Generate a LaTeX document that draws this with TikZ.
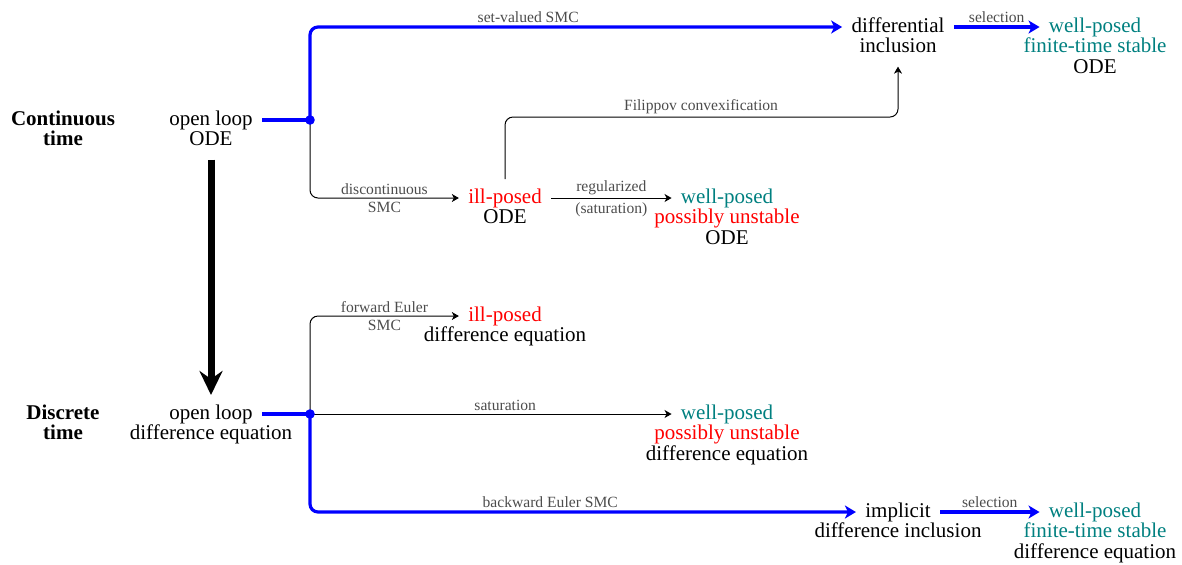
\documentclass[tikz,border=0pt]{standalone}
\usepackage{fontspec}
\setmainfont{Liberation Serif}
\usetikzlibrary{arrows.meta}
\newcommand{\mainsz}{\fontsize{10.5pt}{12pt}\selectfont}
\newcommand{\lblsz}{\fontsize{7.8pt}{9pt}\selectfont}
\definecolor{wpcol}{rgb}{0,0.5,0.5}
\begin{document}
\begin{tikzpicture}[x=0.5pt,y=-0.5pt,
  txt/.style={font=\mainsz, inner sep=4.5pt, text height=7.3pt, text depth=2.3pt},
  nxt/.style={txt, anchor=base},
  hdr/.style={font=\mainsz\bfseries},
  lbl/.style={font=\lblsz, text=black!70, inner sep=1.5pt},
  la/.style={lbl, above},
  lb/.style={lbl, below, yshift=-0.5pt},
  blueline/.style={draw=blue, line width=1.6pt},
  bluearrow/.style={blueline, -{Stealth[length=5.5pt,width=6.5pt,inset=1.5pt]}},
  thinarrow/.style={draw=black, line width=0.5pt, -{Stealth[length=3.5pt,width=4pt,inset=1pt]}},
  bigarrow/.style={draw=black, line width=3.5pt, -{Stealth[length=12pt,width=11.5pt,inset=4pt]}},
  rounded corners=4pt]
\useasboundingbox (0,0) rectangle (1182,564);

% continuous time row
\node[txt,hdr] (ct) at (63,120) {Continuous};
\node[nxt,hdr] (ct2) at ([yshift=-10.3pt]ct.base) {time};
\node[txt] (ol) at (211,120) {open loop};
\node[nxt] (ol2) at ([yshift=-10.3pt]ol.base) {ODE};
\node[txt] (di) at (898,27) {differential};
\node[nxt] (di2) at ([yshift=-10.3pt]di.base) {inclusion};
\node[txt,text=wpcol] (wp1) at (1095,27) {well-posed};
\node[nxt,text=wpcol] (wp1b) at ([yshift=-10.3pt]wp1.base) {finite-time stable};
\node[nxt] (wp1c) at ([yshift=-10.3pt]wp1b.base) {ODE};
\node[txt,text=red] (ip1) at (505,198) {ill-posed};
\node[nxt] (ip1b) at ([yshift=-10.3pt]ip1.base) {ODE};
\node[txt,text=wpcol] (wp2) at (727,198) {well-posed};
\node[nxt,text=red] (wp2b) at ([yshift=-10.3pt]wp2.base) {possibly unstable};
\node[nxt] (wp2c) at ([yshift=-10.3pt]wp2b.base) {ODE};

% discrete time row
\node[txt,hdr] (dt) at (63,414) {Discrete};
\node[nxt,hdr] (dt2) at ([yshift=-10.3pt]dt.base) {time};
\node[txt] (od) at (211,414) {open loop};
\node[nxt] (od2) at ([yshift=-10.3pt]od.base) {difference equation};
\node[txt,text=red] (ip2) at (505,316) {ill-posed};
\node[nxt] (ip2b) at ([yshift=-10.3pt]ip2.base) {difference equation};
\node[txt,text=wpcol] (wp3) at (727,414) {well-posed};
\node[nxt,text=red] (wp3b) at ([yshift=-10.3pt]wp3.base) {possibly unstable};
\node[nxt] (wp3c) at ([yshift=-10.3pt]wp3b.base) {difference equation};
\node[txt] (im) at (898,512) {implicit};
\node[nxt] (im2) at ([yshift=-10.3pt]im.base) {difference inclusion};
\node[txt,text=wpcol] (wp4) at (1095,512) {well-posed};
\node[nxt,text=wpcol] (wp4b) at ([yshift=-10.3pt]wp4.base) {finite-time stable};
\node[nxt] (wp4c) at ([yshift=-10.3pt]wp4b.base) {difference equation};

\coordinate (j1) at (310,120);
\coordinate (j2) at (310,414);
\coordinate (fc) at (701,117);

% continuous connectors
\draw[blueline] (ol.east) -- (j1);
\draw[bluearrow] (j1) |- node[la,pos=0.705] {set-valued SMC} (di.west);
\draw[bluearrow] (di.east) -- node[la] {selection} (wp1.west);
\draw[thinarrow] (j1) |- node[la,pos=0.75] {discontinuous} node[lb,pos=0.75] {SMC} (ip1.west);
\draw[thinarrow] (ip1.east) -- node[la] {regularized} node[lb] {(saturation)} (wp2.west);
\draw[thinarrow] (ip1.north) |- (fc) node[la] {Filippov convexification} -| (di2.south);

% discrete connectors
\draw[blueline] (od.east) -- (j2);
\draw[thinarrow] (j2) |- node[la,pos=0.75] {forward Euler} node[lb,pos=0.75] {SMC} (ip2.west);
\draw[thinarrow] (j2) -- node[la,pos=0.54] {saturation} (wp3.west);
\draw[bluearrow] (j2) |- node[la,pos=0.72] {backward Euler SMC} (im.west);
\draw[bluearrow] (im.east) -- node[la] {selection} (wp4.west);

% discretization arrow
\draw[bigarrow] (ol2.south) -- (od.north);

\fill[blue] (j1) circle (2.4pt);
\fill[blue] (j2) circle (2.4pt);
\end{tikzpicture}
\end{document}
